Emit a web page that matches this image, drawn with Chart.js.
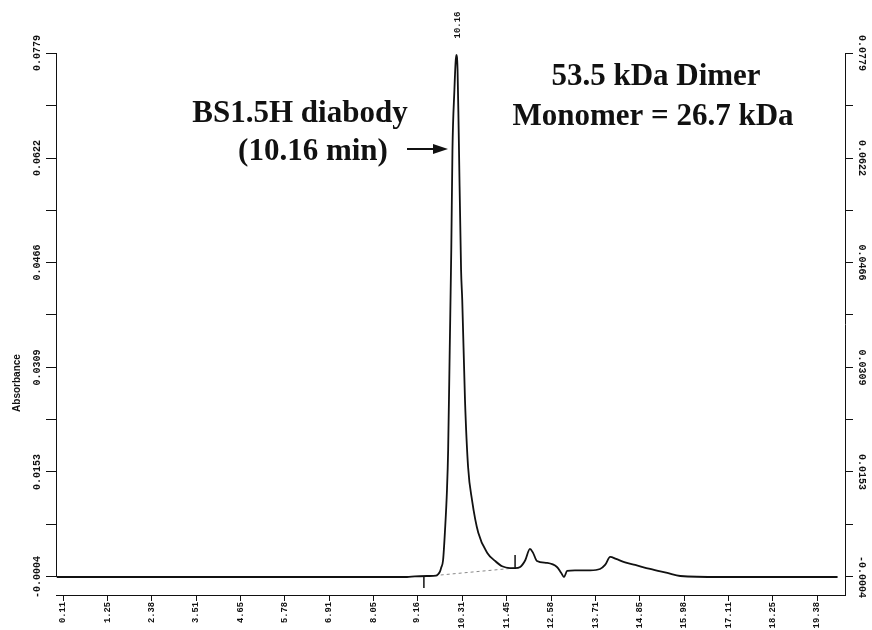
<!DOCTYPE html>
<html><head><meta charset="utf-8">
<script src="https://cdn.jsdelivr.net/npm/chart.js@4.4.0/dist/chart.umd.min.js"></script>
<style>html,body{margin:0;padding:0;background:#fff;}#wrap{width:872px;height:630px;position:relative;}</style>
</head><body>
<div id="wrap"><canvas id="c" width="872" height="630"></canvas></div>
<script>
// ---- data ----
const timeMin = [-0.05, 2.0, 4.0, 6.0, 8.0, 8.9, 9.1, 9.45, 9.64, 9.69, 9.74, 9.77, 9.82, 9.87, 9.92, 9.95, 9.99,
  10.03, 10.06, 10.11, 10.14, 10.16, 10.19, 10.22, 10.28, 10.31, 10.38, 10.46, 10.56, 10.72, 10.95, 11.15, 11.33,
  11.53, 11.66, 11.79, 11.92, 12.04, 12.12, 12.22, 12.48, 12.73, 12.84, 12.91, 12.99, 13.19, 13.58, 13.83, 13.96,
  14.09, 14.24, 14.47, 14.73, 15.11, 15.55, 15.88, 16.9, 18.0, 19.0, 19.9];
const absorbance = [-0.0004, -0.0004, -0.0004, -0.0004, -0.0004, -0.0004, -0.0003, -0.00025, -0.0002, 0.0, 0.0004, 0.00095, 0.0021, 0.0066, 0.0126, 0.0186, 0.0335,
  0.0485, 0.0634, 0.0724, 0.0765, 0.0776, 0.0755, 0.0660, 0.0455, 0.0410, 0.0261, 0.0160, 0.0111, 0.0062, 0.0032, 0.0020, 0.0012,
  0.00094, 0.00094, 0.0011, 0.0021, 0.0038, 0.0032, 0.0020, 0.0017, 0.0011, 0.0002, -0.0004, 0.0005, 0.0006, 0.0006, 0.0008, 0.0014,
  0.0026, 0.0023, 0.0018, 0.0014, 0.0008, 0.0002, -0.00025, -0.0004, -0.0004, -0.0004, -0.0004];
const xTickLabels = ['0.11','1.25','2.38','3.51','4.65','5.78','6.91','8.05','9.16','10.31','11.45','12.58','13.71','14.85','15.98','17.11','18.25','19.38'];
const yMajorLabels = ['-0.0004','0.0153','0.0309','0.0466','0.0622','0.0779'];
const yMinorValues = [0.00745, 0.0231, 0.03875, 0.0544, 0.07005];
const peakTime = 10.16;
const peakLabel = '10.16';
const markerTimes = [9.33, 11.66];
const markerLow = [-0.00205, 0.00094];
const markerHigh = [-0.0004, 0.0029];
const dropBaseTime = [9.76, 11.66];
const dropBaseAbs = [-0.0001, 0.00094];
const yAxisTitle = 'Absorbance';
const noteLeft = ['BS1.5H diabody', '(10.16 min)'];
const noteRight = ['53.5 kDa Dimer', 'Monomer = 26.7 kDa'];

// ---- build ----
const xTickVals = xTickLabels.map(parseFloat);
const yMajorVals = yMajorLabels.map(parseFloat);
const yTickVals = yMajorVals.concat(yMinorValues).sort((a,b)=>a-b);
const trace = timeMin.map((t,i)=>({x:t, y:absorbance[i]}));
const markerSets = markerTimes.map((t,i)=>({
  data:[{x:t,y:markerLow[i]},{x:t,y:markerHigh[i]}], borderColor:'#111', borderWidth:1.5, pointRadius:0, tension:0
}));
const yTickFont = {family:'Liberation Mono', size:10, weight:'bold'};
const xTickFont = {family:'Liberation Mono', size:8.8, weight:'bold'};
const yLabel = (value)=>{ const i = yMajorVals.findIndex(v=>Math.abs(v-value)<1e-7); return i>=0 ? yMajorLabels[i] : ''; };
const Y_MIN = -0.00309, Y_MAX = 0.0779;

const overlay = {
  id:'overlay',
  afterDraw(chart){
    const {ctx, chartArea, scales:{x, y}} = chart;
    ctx.save();
    ctx.strokeStyle = '#111'; ctx.lineWidth = 1;
    ctx.beginPath();
    ctx.moveTo(chartArea.left + 0.5, y.getPixelForValue(yMajorVals[yMajorVals.length-1]));
    ctx.lineTo(chartArea.left + 0.5, y.getPixelForValue(yMajorVals[0]));
    ctx.stroke();
    // peak retention time label
    ctx.save();
    ctx.translate(x.getPixelForValue(peakTime) + 1, 25);
    ctx.rotate(-Math.PI/2);
    ctx.fillStyle = '#111';
    ctx.font = 'bold 9px "Liberation Mono"';
    ctx.textAlign = 'center'; ctx.textBaseline = 'middle';
    ctx.fillText(peakLabel, 0, 0);
    ctx.restore();
    // axis title
    ctx.save();
    ctx.translate(17, 383);
    ctx.rotate(-Math.PI/2);
    ctx.fillStyle = '#111';
    ctx.font = 'bold 10px "Liberation Sans"';
    ctx.textAlign = 'center'; ctx.textBaseline = 'middle';
    ctx.fillText(yAxisTitle, 0, 0);
    ctx.restore();
    // annotations
    ctx.fillStyle = '#111';
    ctx.font = 'bold 31px "Liberation Serif"';
    ctx.textAlign = 'center'; ctx.textBaseline = 'alphabetic';
    ctx.fillText(noteLeft[0], 300, 122);
    ctx.fillText(noteLeft[1], 313, 160);
    ctx.fillText(noteRight[0], 656, 85);
    ctx.fillText(noteRight[1], 653, 125);
    // arrow
    ctx.beginPath(); ctx.lineWidth = 2;
    ctx.moveTo(407, 149); ctx.lineTo(436, 149); ctx.stroke();
    ctx.beginPath();
    ctx.moveTo(448, 149); ctx.lineTo(433, 144); ctx.lineTo(433, 154); ctx.closePath(); ctx.fill();
    ctx.restore();
  }
};

new Chart(document.getElementById('c'), {
  type:'line',
  data:{ datasets:[
    {data:trace, borderColor:'#111', borderWidth:1.8, pointRadius:0, cubicInterpolationMode:'monotone', yAxisID:'y'},
    {data:dropBaseTime.map((t,i)=>({x:t,y:dropBaseAbs[i]})), borderColor:'#888', borderWidth:1, borderDash:[3,3], pointRadius:0, yAxisID:'y'},
    ...markerSets
  ]},
  options:{
    responsive:false, animation:false, devicePixelRatio:1,
    layout:{padding:{top:53, left:0, right:0, bottom:0}},
    plugins:{legend:{display:false}, tooltip:{enabled:false}, title:{display:false}},
    scales:{
      x:{ type:'linear', position:'bottom', min:-0.07, max:20.09,
        afterBuildTicks:s=>{ s.ticks = xTickVals.map(v=>({value:v})); },
        afterFit:s=>{ s.height = 35; },
        grid:{drawOnChartArea:false, drawTicks:true, tickLength:6, color:'#111'},
        border:{display:true, color:'#111', width:1},
        ticks:{autoSkip:false, minRotation:90, maxRotation:90, padding:1, font:xTickFont, color:'#111',
          callback:(v,i)=>xTickLabels[i]} },
      y:{ type:'linear', position:'left', min:Y_MIN, max:Y_MAX,
        afterBuildTicks:s=>{ s.ticks = yTickVals.map(v=>({value:v})); },
        afterFit:s=>{ s.width = 56; },
        grid:{drawOnChartArea:false, drawTicks:true, tickLength:10, color:'#111'},
        border:{display:false},
        ticks:{minRotation:90, maxRotation:90, crossAlign:'center', padding:-12, font:yTickFont, color:'#111',
          callback:(v)=>yLabel(v)} },
      y2:{ type:'linear', position:'right', display:true, min:Y_MIN, max:Y_MAX,
        afterBuildTicks:s=>{ s.ticks = yTickVals.map(v=>({value:v})); },
        afterFit:s=>{ s.width = 27; },
        grid:{drawOnChartArea:false, drawTicks:true, tickLength:8, color:'#111'},
        border:{display:true, color:'#111', width:1},
        ticks:{minRotation:-90, maxRotation:90, crossAlign:'center', padding:-12, font:yTickFont, color:'#111',
          callback:(v)=>yLabel(v)} }
    }
  },
  plugins:[overlay]
});
</script>
</body></html>
